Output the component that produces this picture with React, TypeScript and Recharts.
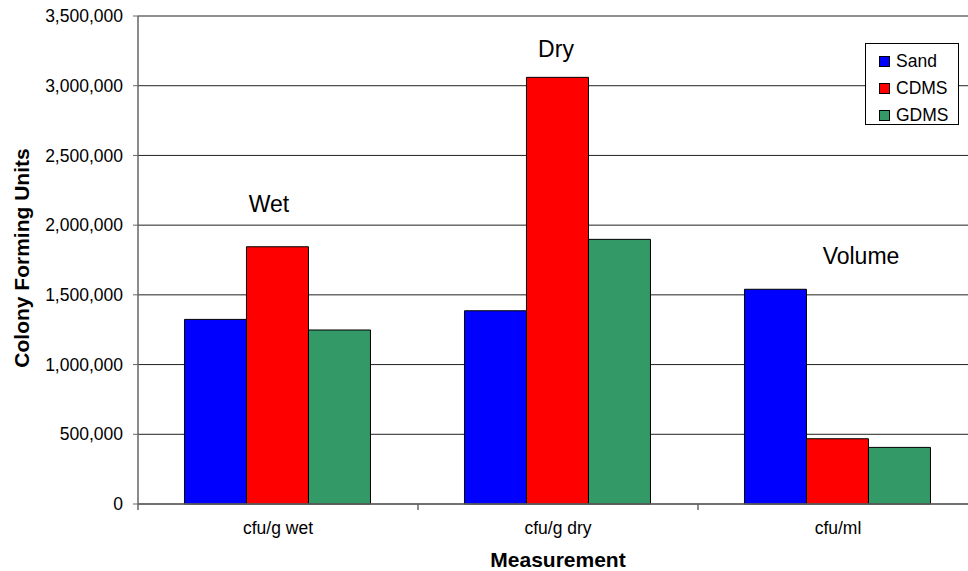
import React from "react";
import { BarChart, Bar, XAxis, YAxis, CartesianGrid, Legend } from "recharts";

const categories = ["cfu/g wet", "cfu/g dry", "cfu/ml"];
const sand = [1324000, 1386000, 1540000];
const cdms = [1845000, 3060000, 468000];
const gdms = [1248000, 1898000, 406000];
const yTicks = [0, 500000, 1000000, 1500000, 2000000, 2500000, 3000000, 3500000];

const SERIES = [
    { key: "sand", name: "Sand", color: "#0000FF" },
    { key: "cdms", name: "CDMS", color: "#FF0000" },
    { key: "gdms", name: "GDMS", color: "#339966" },
];

const FONT = '"Liberation Sans", Arial, sans-serif';

const data = categories.map((c, i) => ({ name: c, sand: sand[i], cdms: cdms[i], gdms: gdms[i] }));

// label at category centre, tick marks at category boundaries
function XTick(props: any) {
    const { x, y, payload, width, visibleTicksCount, index } = props;
    const half = payload.offset || width / (2 * visibleTicksCount);
    const last = index === visibleTicksCount - 1;
    return (
        <g>
            <line x1={x - half} x2={x - half} y1={y} y2={y + 6} stroke="#666" strokeWidth={1.5} />
            {last && <line x1={x + half} x2={x + half} y1={y} y2={y + 6} stroke="#666" strokeWidth={1.5} />}
            <text x={x} y={y + 30} textAnchor="middle" fontSize={17.5} fontFamily={FONT} fill="#000">
                {payload.value}
            </text>
        </g>
    );
}

function LegendBox() {
    return (
        <div style={{ border: "1px solid #000", background: "#fff", width: 94, height: 82, boxSizing: "border-box", padding: "4px 0 0 13px" }}>
            {SERIES.map(s => (
                <div key={s.key} style={{ display: "flex", alignItems: "center", height: 27, fontFamily: FONT, fontSize: 17.5, color: "#000" }}>
                    <span style={{ width: 9, height: 9, background: s.color, border: "1px solid #000", marginRight: 6 }} />
                    {s.name}
                </div>
            ))}
        </div>
    );
}

const note = (text: string, x: number, y: number, size = 23) => (
    <div style={{ position: "absolute", left: x, top: y, transform: "translate(-50%, -50%)", fontFamily: FONT, fontSize: size, whiteSpace: "nowrap", color: "#000" }}>
        {text}
    </div>
);

export default function App() {
    return (
        <div style={{ position: "fixed", left: 0, top: 0, width: 968, height: 571, overflow: "hidden", background: "#fff" }}>
            <BarChart width={990} height={571} data={data} margin={{ top: 16, right: 12, bottom: 0, left: 0 }}
                barGap={0} barCategoryGap="16.6%">
                <CartesianGrid vertical={false} stroke="#222" strokeWidth={1} />
                <XAxis dataKey="name" interval={0} height={67} tick={<XTick />} tickLine={false}
                    tickSize={0} tickMargin={0} axisLine={{ stroke: "#666", strokeWidth: 1.5 }} />
                <YAxis width={138} domain={[0, 3500000]} ticks={yTicks} interval={0}
                    tickFormatter={(v: number) => v.toLocaleString("en-US")}
                    tick={{ fontSize: 17.5, fontFamily: FONT, fill: "#000" }} tickSize={5} tickMargin={10}
                    tickLine={{ stroke: "#666" }} axisLine={{ stroke: "#666", strokeWidth: 1.5 }} />
                <Legend layout="vertical" align="center" verticalAlign="middle" content={<LegendBox />}
                    wrapperStyle={{ position: "absolute", left: 865, top: 43, width: 94, height: 82 }} />
                {SERIES.map(s => (
                    <Bar key={s.key} dataKey={s.key} name={s.name} fill={s.color}
                        stroke="#000" strokeWidth={1} isAnimationActive={false} />
                ))}
            </BarChart>
            {note("Wet", 269, 204)}
            {note("Dry", 556, 49)}
            {note("Volume", 861, 256)}
            <div style={{ position: "absolute", left: 22, top: 258, transform: "translate(-50%, -50%) rotate(-90deg)", fontFamily: FONT, fontWeight: "bold", fontSize: 21, whiteSpace: "nowrap" }}>
                Colony Forming Units
            </div>
            <div style={{ position: "absolute", left: 558, top: 560, transform: "translate(-50%, -50%)", fontFamily: FONT, fontWeight: "bold", fontSize: 21, whiteSpace: "nowrap" }}>
                Measurement
            </div>
        </div>
    );
}
